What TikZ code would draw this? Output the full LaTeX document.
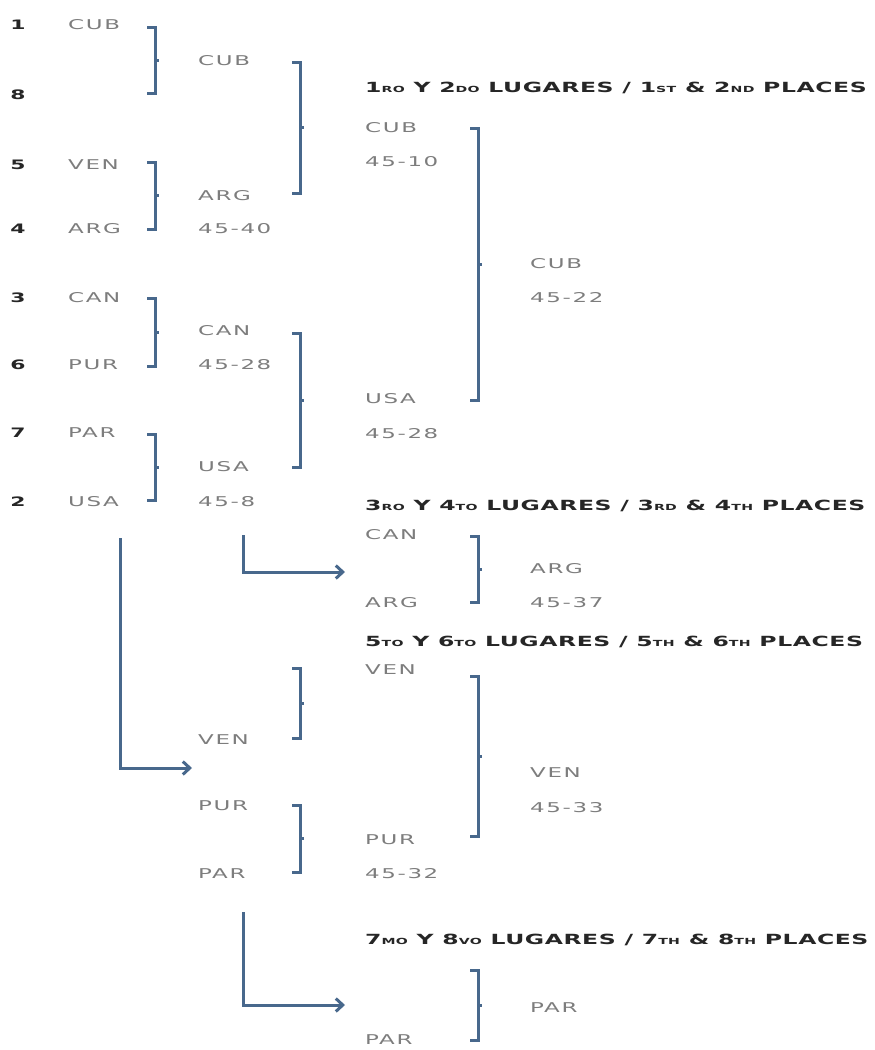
\documentclass[tikz,border=0pt]{standalone}
\usepackage{fontspec}
\usepackage{tikz}
\usetikzlibrary{arrows.meta,calc}
\newfontfamily\teamfont[FakeStretch=1.7,LetterSpace=12]{DejaVu Sans}
\newfontfamily\headfont[FakeStretch=1.68,LetterSpace=4]{DejaVu Sans Bold}
\definecolor{bracketblue}{RGB}{72,104,140}
\definecolor{teamgray}{RGB}{125,125,125}
\newcommand{\sm}[1]{{\fontsize{8.4}{8.4}\selectfont #1}}

\begin{document}
\begin{tikzpicture}[x=1pt,y=-1pt,
    team/.style={anchor=west,inner sep=0pt,font=\teamfont\fontsize{13.5}{13.5}\selectfont,text=teamgray},
    seed/.style={anchor=center,inner sep=0pt,font=\headfont\fontsize{13}{13}\selectfont,text=black!85},
    head/.style={anchor=west,inner sep=0pt,font=\headfont\fontsize{14}{14}\selectfont,text=black!85},
    bra/.style={draw=bracketblue,line width=3pt,
        to path={([xshift=-8]\tikztostart) -- (\tikztostart) -- (\tikztotarget) -- ([xshift=-8]\tikztotarget)
                 ($(\tikztostart)!.5!(\tikztotarget)$) -- ++(4,0)}},
    arr/.style={draw=bracketblue,line width=3pt,-{Straight Barb[length=7pt,width=13pt,line width=3pt]}}]
    \useasboundingbox (0,0) rectangle (875,1050);

    % seeds
    \begin{scope}[every node/.style={seed}]
        \node (s1) at (18,25) {1};
        \node (s8) at (18,95) {8};
        \node (s5) at (18,165) {5};
        \node (s4) at (18,229) {4};
        \node (s3) at (18,298) {3};
        \node (s6) at (18,365) {6};
        \node (s7) at (18,433) {7};
        \node (s2) at (18,502) {2};
    \end{scope}

    % teams
    \begin{scope}[every node/.style={team}]
        % first round
        \node (cub1) at (68,25) {CUB};
        \node (ven1) at (68,165) {VEN};
        \node (arg1) at (68,229) {ARG};
        \node (can1) at (68,298) {CAN};
        \node (pur1) at (68,365) {PUR};
        \node (par1) at (68,433) {PAR};
        \node (usa1) at (68,502) {USA};
        % semifinal
        \node (cub2) at (198,61) {CUB};
        \node (arg2) at (198,196) {ARG};
        \node (arg2s) at (198,229) {45-40};
        \node (can2) at (198,331) {CAN};
        \node (can2s) at (198,365) {45-28};
        \node (usa2) at (198,467) {USA};
        \node (usa2s) at (198,502) {45-8};
        % final
        \node (cub3) at (365,128) {CUB};
        \node (cub3s) at (365,162) {45-10};
        \node (usa3) at (365,399) {USA};
        \node (usa3s) at (365,434) {45-28};
        \node (cub4) at (530,264) {CUB};
        \node (cub4s) at (530,298) {45-22};
        % 3rd place
        \node (can3) at (365,535) {CAN};
        \node (arg3) at (365,603) {ARG};
        \node (arg4) at (530,569) {ARG};
        \node (arg4s) at (530,603) {45-37};
        % 5th place
        \node (ven2) at (198,740) {VEN};
        \node (pur2) at (198,806) {PUR};
        \node (par2) at (198,874) {PAR};
        \node (ven3) at (365,670) {VEN};
        \node (pur3) at (365,840) {PUR};
        \node (pur3s) at (365,874) {45-32};
        \node (ven4) at (530,773) {VEN};
        \node (ven4s) at (530,808) {45-33};
        % 7th place
        \node (par3) at (365,1040) {PAR};
        \node (par4) at (530,1008) {PAR};
    \end{scope}

    % headings
    \begin{scope}[every node/.style={head}]
        \node (h12) at (365,88) {1\sm{RO} Y 2\sm{DO} LUGARES / 1\sm{ST} \& 2\sm{ND} PLACES};
        \node (h34) at (365,506) {3\sm{RO} Y 4\sm{TO} LUGARES / 3\sm{RD} \& 4\sm{TH} PLACES};
        \node (h56) at (365,642) {5\sm{TO} Y 6\sm{TO} LUGARES / 5\sm{TH} \& 6\sm{TH} PLACES};
        \node (h78) at (365,940) {7\sm{MO} Y 8\sm{VO} LUGARES / 7\sm{TH} \& 8\sm{TH} PLACES};
    \end{scope}

    % bracket ends
    \coordinate (b1a) at (155,27);  \coordinate (b1b) at (155,93);
    \coordinate (b2a) at (155,162); \coordinate (b2b) at (155,229);
    \coordinate (b3a) at (155,298); \coordinate (b3b) at (155,366);
    \coordinate (b4a) at (155,434); \coordinate (b4b) at (155,500);
    \coordinate (b5a) at (300,62);  \coordinate (b5b) at (300,193);
    \coordinate (b6a) at (300,333); \coordinate (b6b) at (300,467);
    \coordinate (b7a) at (478,128); \coordinate (b7b) at (478,400);
    \coordinate (b8a) at (478,536); \coordinate (b8b) at (478,602);
    \coordinate (b9a) at (300,668); \coordinate (b9b) at (300,738);
    \coordinate (b10a) at (300,805); \coordinate (b10b) at (300,872);
    \coordinate (b11a) at (478,676); \coordinate (b11b) at (478,836);
    \coordinate (b12a) at (478,970); \coordinate (b12b) at (478,1040);

    \begin{scope}[every edge/.style={bra}]
        \path (b1a) edge (b1b);
        \path (b2a) edge (b2b);
        \path (b3a) edge (b3b);
        \path (b4a) edge (b4b);
        \path (b5a) edge (b5b);
        \path (b6a) edge (b6b);
        \path (b7a) edge (b7b);
        \path (b8a) edge (b8b);
        \path (b9a) edge (b9b);
        \path (b10a) edge (b10b);
        \path (b11a) edge (b11b);
        \path (b12a) edge (b12b);
    \end{scope}

    % losers go down
    \coordinate (a1) at (243,535);  \coordinate (a1e) at (345,572);
    \coordinate (a2) at (120,538);  \coordinate (a2e) at (192,768);
    \coordinate (a3) at (243,912);  \coordinate (a3e) at (345,1005);
    \draw[arr] (a1) |- (a1e);
    \draw[arr] (a2) |- (a2e);
    \draw[arr] (a3) |- (a3e);
\end{tikzpicture}
\end{document}
